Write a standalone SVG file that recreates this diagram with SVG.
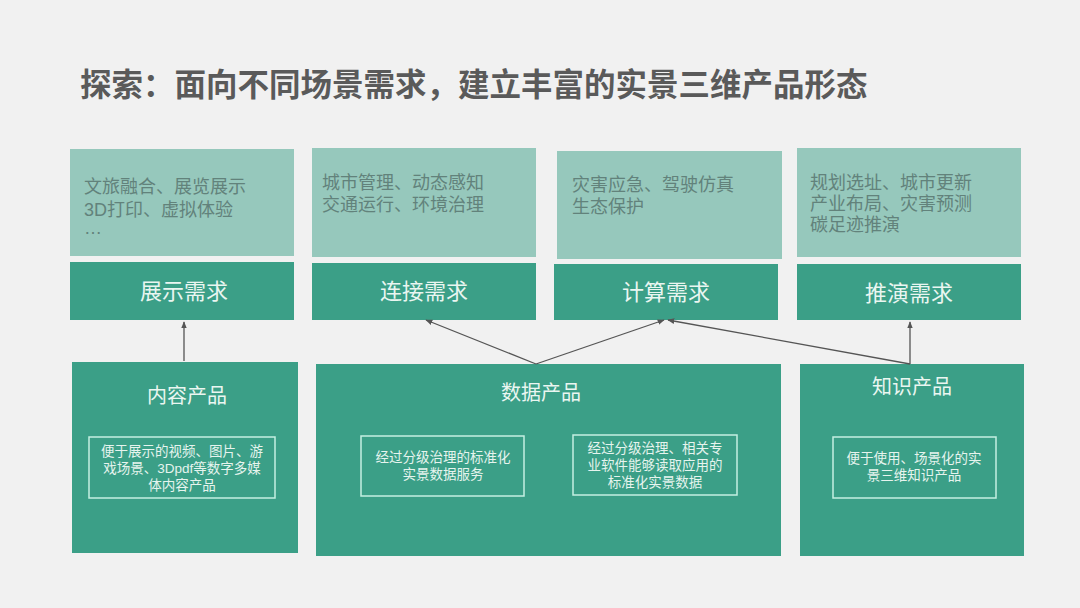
<svg xmlns="http://www.w3.org/2000/svg" width="1080" height="608" viewBox="0 0 1080 608">
<defs>
<marker id="ah" viewBox="0 0 10 10" refX="9" refY="5" markerWidth="7" markerHeight="7" orient="auto-start-reverse" markerUnits="userSpaceOnUse">
<path d="M0,1 L10,5 L0,9 z" fill="#555"/>
</marker>
<style>
text{font-family:"Liberation Sans","Noto Sans CJK SC",sans-serif;}
.title{font-size:31.5px;font-weight:bold;fill:#5a5a5a;}
.light{fill:#96c8bc;}
.dark{fill:#3b9f87;}
.ltxt{font-size:18px;fill:#62827b;}
.dtxt{font-size:22px;fill:#eaf6f1;text-anchor:middle;}
.ptxt{font-size:20px;fill:#eaf6f1;text-anchor:middle;}
.inner{fill:none;stroke:#c5efe2;stroke-width:1.5;}
.itxt{font-size:13.5px;fill:#e6f4ee;text-anchor:middle;}
.conn{stroke:#555;stroke-width:1.3;fill:none;marker-end:url(#ah);}
</style>
</defs>
<rect width="1080" height="608" fill="#f1f1f1"/>
<text class="title" x="80" y="96">探索：面向不同场景需求，建立丰富的实景三维产品形态</text>

<g id="need1">
<rect class="light" x="70" y="149" width="224" height="107"/>
<text class="ltxt" x="84" y="193">文旅融合、展览展示</text>
<text class="ltxt" x="84" y="216">3D打印、虚拟体验</text>
<text class="ltxt" x="84" y="234">…</text>
<rect class="dark" x="70" y="262" width="224" height="58"/>
<text class="dtxt" x="184" y="299">展示需求</text>
</g>
<g id="need2">
<rect class="light" x="312" y="148" width="224" height="109"/>
<text class="ltxt" x="322" y="189">城市管理、动态感知</text>
<text class="ltxt" x="322" y="211">交通运行、环境治理</text>
<rect class="dark" x="312" y="263" width="224" height="57"/>
<text class="dtxt" x="424" y="299">连接需求</text>
</g>
<g id="need3">
<rect class="light" x="557" y="151" width="225" height="108"/>
<text class="ltxt" x="572" y="191">灾害应急、驾驶仿真</text>
<text class="ltxt" x="572" y="213">生态保护</text>
<rect class="dark" x="554" y="264" width="224" height="56"/>
<text class="dtxt" x="666" y="300">计算需求</text>
</g>
<g id="need4">
<rect class="light" x="797" y="148" width="224" height="109"/>
<text class="ltxt" x="810" y="189">规划选址、城市更新</text>
<text class="ltxt" x="810" y="210">产业布局、灾害预测</text>
<text class="ltxt" x="810" y="231">碳足迹推演</text>
<rect class="dark" x="797" y="264" width="224" height="56"/>
<text class="dtxt" x="909" y="301">推演需求</text>
</g>

<g id="prod1">
<rect class="dark" x="72" y="362" width="226" height="191"/>
<text class="ptxt" x="187" y="403">内容产品</text>
<rect class="inner" x="89" y="437" width="186" height="61"/>
<text class="itxt" x="182" y="456">便于展示的视频、图片、游</text>
<text class="itxt" x="182" y="473">戏场景、3Dpdf等数字多媒</text>
<text class="itxt" x="182" y="490">体内容产品</text>
</g>
<g id="prod2">
<rect class="dark" x="316" y="364" width="465" height="192"/>
<text class="ptxt" x="541" y="400">数据产品</text>
<rect class="inner" x="361" y="436" width="163" height="60"/>
<text class="itxt" x="443" y="462">经过分级治理的标准化</text>
<text class="itxt" x="443" y="479">实景数据服务</text>
<rect class="inner" x="573" y="435" width="164" height="60"/>
<text class="itxt" x="655" y="453">经过分级治理、相关专</text>
<text class="itxt" x="655" y="470">业软件能够读取应用的</text>
<text class="itxt" x="655" y="487">标准化实景数据</text>
</g>
<g id="prod3">
<rect class="dark" x="800" y="364" width="224" height="192"/>
<text class="ptxt" x="912" y="394">知识产品</text>
<rect class="inner" x="833" y="437" width="163" height="61"/>
<text class="itxt" x="914" y="463">便于使用、场景化的实</text>
<text class="itxt" x="914" y="480">景三维知识产品</text>
</g>

<g id="connectors">
<line class="conn" x1="184" y1="361" x2="184" y2="322"/>
<line class="conn" x1="536" y1="364" x2="426" y2="320"/>
<line class="conn" x1="536" y1="364" x2="664" y2="320"/>
<line class="conn" x1="910" y1="364" x2="668" y2="320"/>
<line class="conn" x1="910" y1="364" x2="910" y2="322"/>
</g>
</svg>
